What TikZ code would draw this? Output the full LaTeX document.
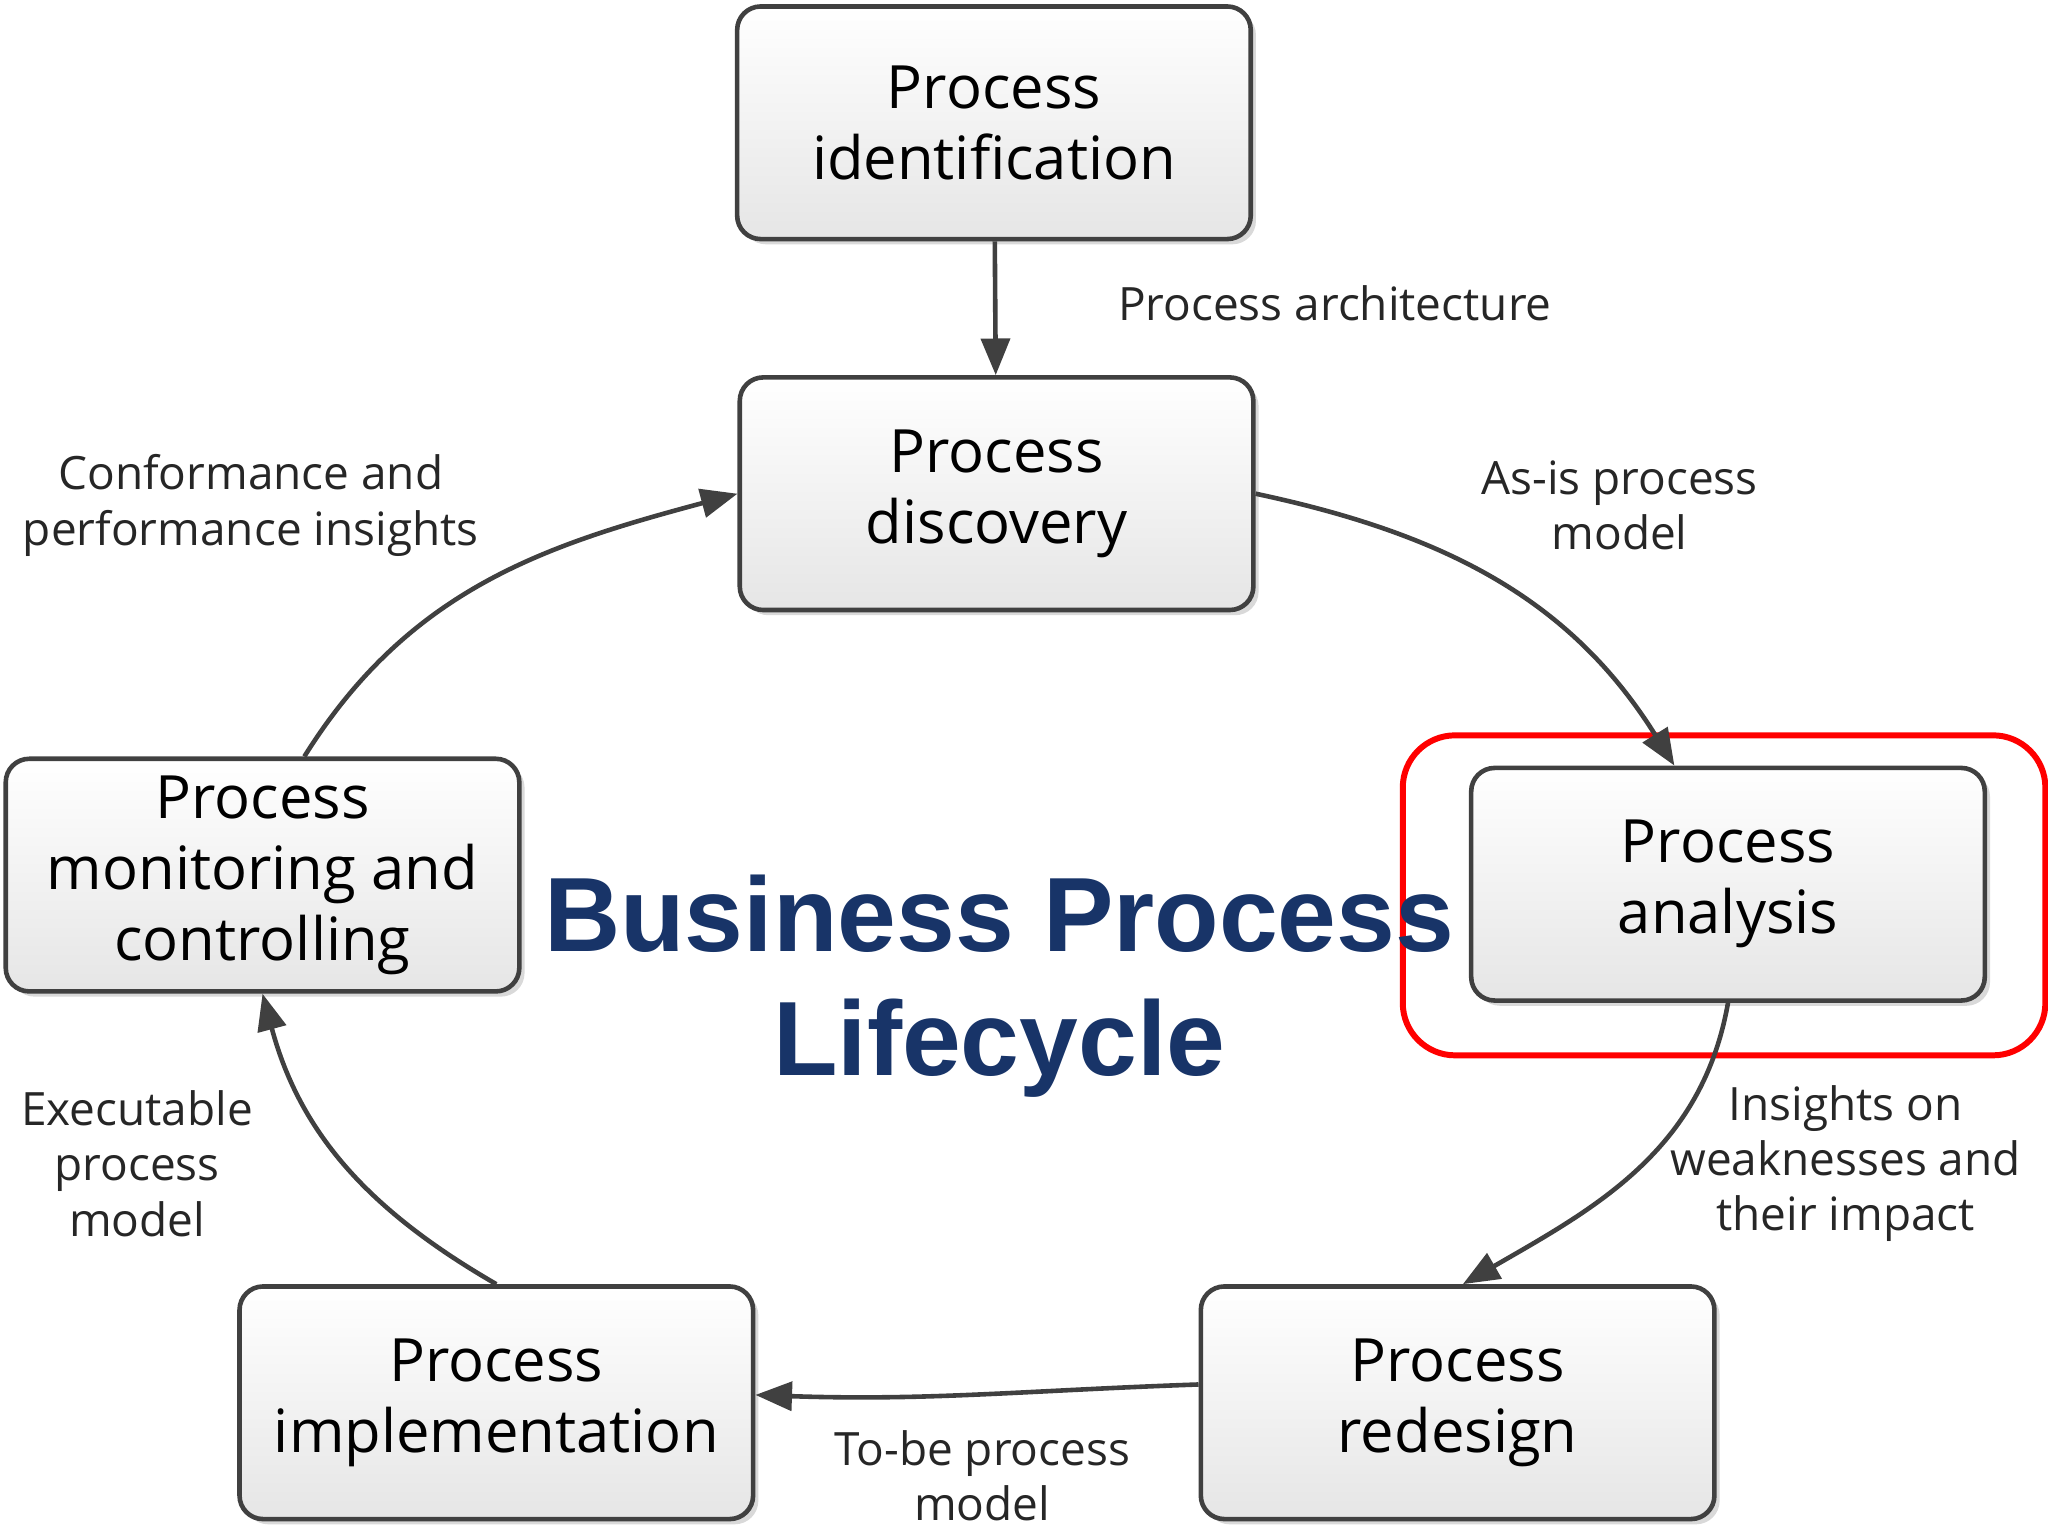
\documentclass[tikz,border=0pt]{standalone}
\usepackage{fontspec}
\setmainfont{Open Sans}
\newfontfamily\titlefont{Liberation Sans}
\usetikzlibrary{shadows,arrows.meta}
\definecolor{titleblue}{RGB}{24,52,104}
\begin{document}
\begin{tikzpicture}[x=0.01cm,y=-0.01cm,
  box/.style={draw=black!75,line width=1pt,rounded corners=0.18cm,minimum width=3.93cm,minimum height=1.78cm,inner sep=1pt,
    top color=white,bottom color=black!10,drop shadow={shadow xshift=0.04cm,shadow yshift=-0.04cm,opacity=0.3},
    align=center,font=\fontsize{13}{15.5}\selectfont},
  lbl/.style={align=center,font=\fontsize{10}{12}\selectfont,text=black!85},
  arr/.style={line width=1pt,draw=black!75,-{Triangle[length=0.28cm,width=0.22cm]}}]
\useasboundingbox (0,0) rectangle (1568,1176);
\node[box] (ident) at (761,94) {Process\\identification};
\node[box] (disc) at (763,378) {Process\\discovery};
\node[box] (anal) at (1323,677) {Process\\analysis};
\node[box] (red) at (1116,1074) {Process\\redesign};
\node[box] (impl) at (380,1074) {Process\\implementation};
\node[box] (mon) at (201,670) {Process\\monitoring and\\controlling};
\draw[red,line width=1.3pt,rounded corners=0.4cm] (1074,563) rectangle (1566,808);
\draw[arr] (ident) -- (disc);
\draw[arr] (disc.east) to[out=-12,in=122] ([xshift=-0.41cm]anal.north);
\draw[arr] (anal.south) to[out=-100,in=30] ([xshift=0.04cm]red.north);
\draw[arr] ([yshift=0.14cm]red.west) to[out=182,in=-2] ([yshift=0.06cm]impl.east);
\draw[arr] (impl.north) to[out=150,in=-75] (mon.south);
\draw[arr] ([xshift=0.32cm]mon.north) to[out=58,in=195] (disc.west);
\node[lbl] (l1) at (1022,232) {Process architecture};
\node[lbl] (l2) at (1240,387) {As-is process\\model};
\node[lbl] (l3) at (1413,891) {Insights on\\weaknesses and\\their impact};
\node[lbl] (l4) at (752,1130) {To-be process\\model};
\node[lbl] (l5) at (105,891) {Executable\\process\\model};
\node[lbl] (l6) at (192,387) {Conformance and\\performance insights};
\node[align=center,text=titleblue,font=\titlefont\bfseries\fontsize{23}{27}\selectfont] (title) at (765,755) {Business Process\\Lifecycle};
\end{tikzpicture}
\end{document}
